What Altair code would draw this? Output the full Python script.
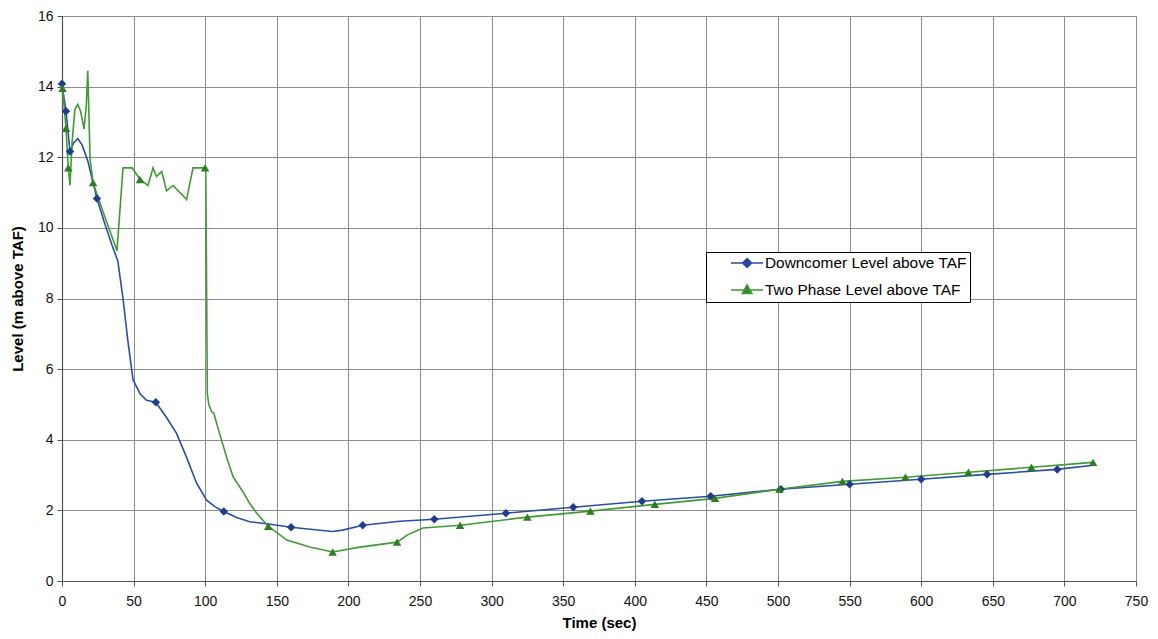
import altair as alt
import pandas as pd

# ---------------- data ----------------
SERIES = ["Downcomer Level above TAF", "Two Phase Level above TAF"]

blue_t = [0, 2.8, 5.6, 8, 11, 14, 18, 24.4, 30, 35, 39, 42.6, 46, 49.6, 54.5, 59,
          65.5, 73, 80, 87, 94, 101, 107, 113, 122, 131, 143, 160, 175, 189, 196,
          210, 236, 260, 310, 357, 405, 453, 502, 550, 600, 646, 695, 720]
blue_v = [14.08, 13.3, 12.16, 12.4, 12.53, 12.35, 11.9, 10.83, 10.1, 9.5, 9.06, 8.0,
          6.8, 5.7, 5.3, 5.12, 5.06, 4.63, 4.18, 3.5, 2.77, 2.29, 2.1, 1.97, 1.8,
          1.68, 1.62, 1.52, 1.46, 1.4, 1.44, 1.58, 1.69, 1.75, 1.92, 2.09, 2.26,
          2.40, 2.60, 2.74, 2.88, 3.02, 3.16, 3.28]

green_t = [0.4, 2.8, 4.4, 5.6, 7, 9, 11, 13, 15.4, 17, 18, 19.6, 21.7, 30, 38.4,
           42.6, 49, 54.5, 60, 63.6, 66, 69.6, 73, 77.5, 83.6, 87, 91.5, 99.9,
           100.4, 101.5, 102.5, 104.5, 106, 110, 115, 119.5, 126, 131, 136, 144,
           157, 173, 189, 208, 234, 241, 252, 278, 325, 369, 414, 456, 501, 545,
           589, 633, 677, 720]
green_v = [13.95, 12.82, 11.7, 11.2, 12.4, 13.35, 13.5, 13.3, 12.8, 13.5, 14.45,
           11.95, 11.28, 10.3, 9.35, 11.7, 11.7, 11.37, 11.2, 11.7, 11.45, 11.6,
           11.05, 11.2, 10.95, 10.8, 11.7, 11.7, 11.6, 5.3, 5.0, 4.8, 4.75, 4.18,
           3.5, 2.95, 2.55, 2.2, 1.92, 1.55, 1.16, 0.96, 0.82, 0.96, 1.1, 1.3, 1.5,
           1.58, 1.81, 1.98, 2.17, 2.34, 2.6, 2.82, 2.94, 3.08, 3.22, 3.36]

blue_mark_t = [0, 2.8, 5.6, 24.4, 65.5, 113, 160, 210, 260, 310, 357, 405, 453,
               502, 550, 600, 646, 695]
blue_mark_v = [14.08, 13.3, 12.16, 10.83, 5.06, 1.97, 1.52, 1.58, 1.75, 1.92, 2.09,
               2.26, 2.40, 2.60, 2.74, 2.88, 3.02, 3.16]

green_mark_t = [0.4, 2.8, 4.4, 21.7, 54.5, 99.9, 144, 189, 234, 278, 325, 369,
                414, 456, 501, 545, 589, 633, 677, 720]
green_mark_v = [13.95, 12.82, 11.7, 11.28, 11.37, 11.7, 1.55, 0.82, 1.1, 1.58,
                1.81, 1.98, 2.17, 2.34, 2.6, 2.82, 2.94, 3.08, 3.22, 3.36]

x_ticks = list(range(0, 751, 50))
y_ticks = list(range(0, 17, 2))

LINE_COLORS = ["#2c4ea0", "#3f9b32"]
MARK_COLORS = ["#1f3c8f", "#2d7d22"]

# ---------------- tables ----------------
lines = pd.concat([
    pd.DataFrame({"t": blue_t, "v": blue_v, "series": SERIES[0], "i": range(len(blue_t))}),
    pd.DataFrame({"t": green_t, "v": green_v, "series": SERIES[1], "i": range(len(green_t))}),
])
marks = pd.concat([
    pd.DataFrame({"t": blue_mark_t, "v": blue_mark_v, "series": SERIES[0]}),
    pd.DataFrame({"t": green_mark_t, "v": green_mark_v, "series": SERIES[1]}),
])

x_enc = alt.X("t:Q", title="Time (sec)",
              scale=alt.Scale(domain=[0, 750], nice=False, zero=False),
              axis=alt.Axis(values=x_ticks, format="d", labelFlush=False,
                            labelPadding=8, titlePadding=7))
y_enc = alt.Y("v:Q", title="Level (m above TAF)",
              scale=alt.Scale(domain=[0, 16], nice=False),
              axis=alt.Axis(values=y_ticks, format="d", labelPadding=4,
                            titlePadding=12))

line_layer = alt.Chart(lines).mark_line(strokeWidth=1.6).encode(
    x=x_enc, y=y_enc,
    color=alt.Color("series:N", scale=alt.Scale(domain=SERIES, range=LINE_COLORS),
                    legend=None),
    order="i:Q",
)

point_layer = alt.Chart(marks).mark_point(filled=True, size=72, opacity=1).encode(
    x="t:Q", y="v:Q",
    fill=alt.Fill("series:N", scale=alt.Scale(domain=SERIES, range=MARK_COLORS),
                  legend=None),
    shape=alt.Shape("series:N", scale=alt.Scale(domain=SERIES,
                                                range=["diamond", "triangle-up"]),
                    legend=None),
)

# legend-only layer (invisible marks): symbol = short line with the series marker
P_DIAMOND = "M-1,0M2,0L6.6,0M4.3,-0.64L4.94,0L4.3,0.64L3.66,0Z"
P_TRIANGLE = "M-1,0M2,0L6.6,0M4.3,-0.72L4.98,0.48L3.62,0.48Z"

legend = alt.Legend(
    title=None, orient="none", legendX=644, legendY=236,
    fillColor="#ffffff", strokeColor="#000000", padding=3,
    symbolSize=196, symbolOpacity=1, symbolStrokeWidth=1.6,
    rowPadding=9, labelOffset=40,
    labelFont="Liberation Sans", labelFontSize=15.4, labelColor="#000000",
    labelLimit=400,
)

legend_layer = alt.Chart(marks).mark_point(filled=True, opacity=0).encode(
    x="t:Q", y="v:Q",
    stroke=alt.Stroke("series:N", scale=alt.Scale(domain=SERIES, range=LINE_COLORS),
                      legend=legend),
    fill=alt.Fill("series:N", scale=alt.Scale(domain=SERIES, range=MARK_COLORS),
                  legend=legend),
    shape=alt.Shape("series:N", scale=alt.Scale(domain=SERIES,
                                                range=[P_DIAMOND, P_TRIANGLE]),
                    legend=legend),
)

chart = (
    alt.layer(line_layer, point_layer, legend_layer)
    .resolve_scale(color="independent", fill="independent",
                   shape="independent", stroke="independent")
    .properties(width=1074, height=565,
                autosize=alt.AutoSizeParams(type="none"),
                padding={"left": 54, "top": 8, "right": 14, "bottom": 50},
                background="#ffffff")
    .configure_view(stroke="#808080", strokeWidth=1)
    .configure_axis(
        labelFont="Liberation Sans", labelFontSize=14, labelColor="#111111",
        titleFont="Liberation Sans", titleFontSize=15, titleFontWeight="bold",
        titleColor="#000000",
        gridColor="#8c8c8c", gridWidth=1, gridOpacity=1,
        domainColor="#555555", domainWidth=1.2,
        tickColor="#555555", tickSize=5, tickWidth=1,
    )
)

chart.save("out.html", embed_options={"renderer": "svg", "actions": False})
